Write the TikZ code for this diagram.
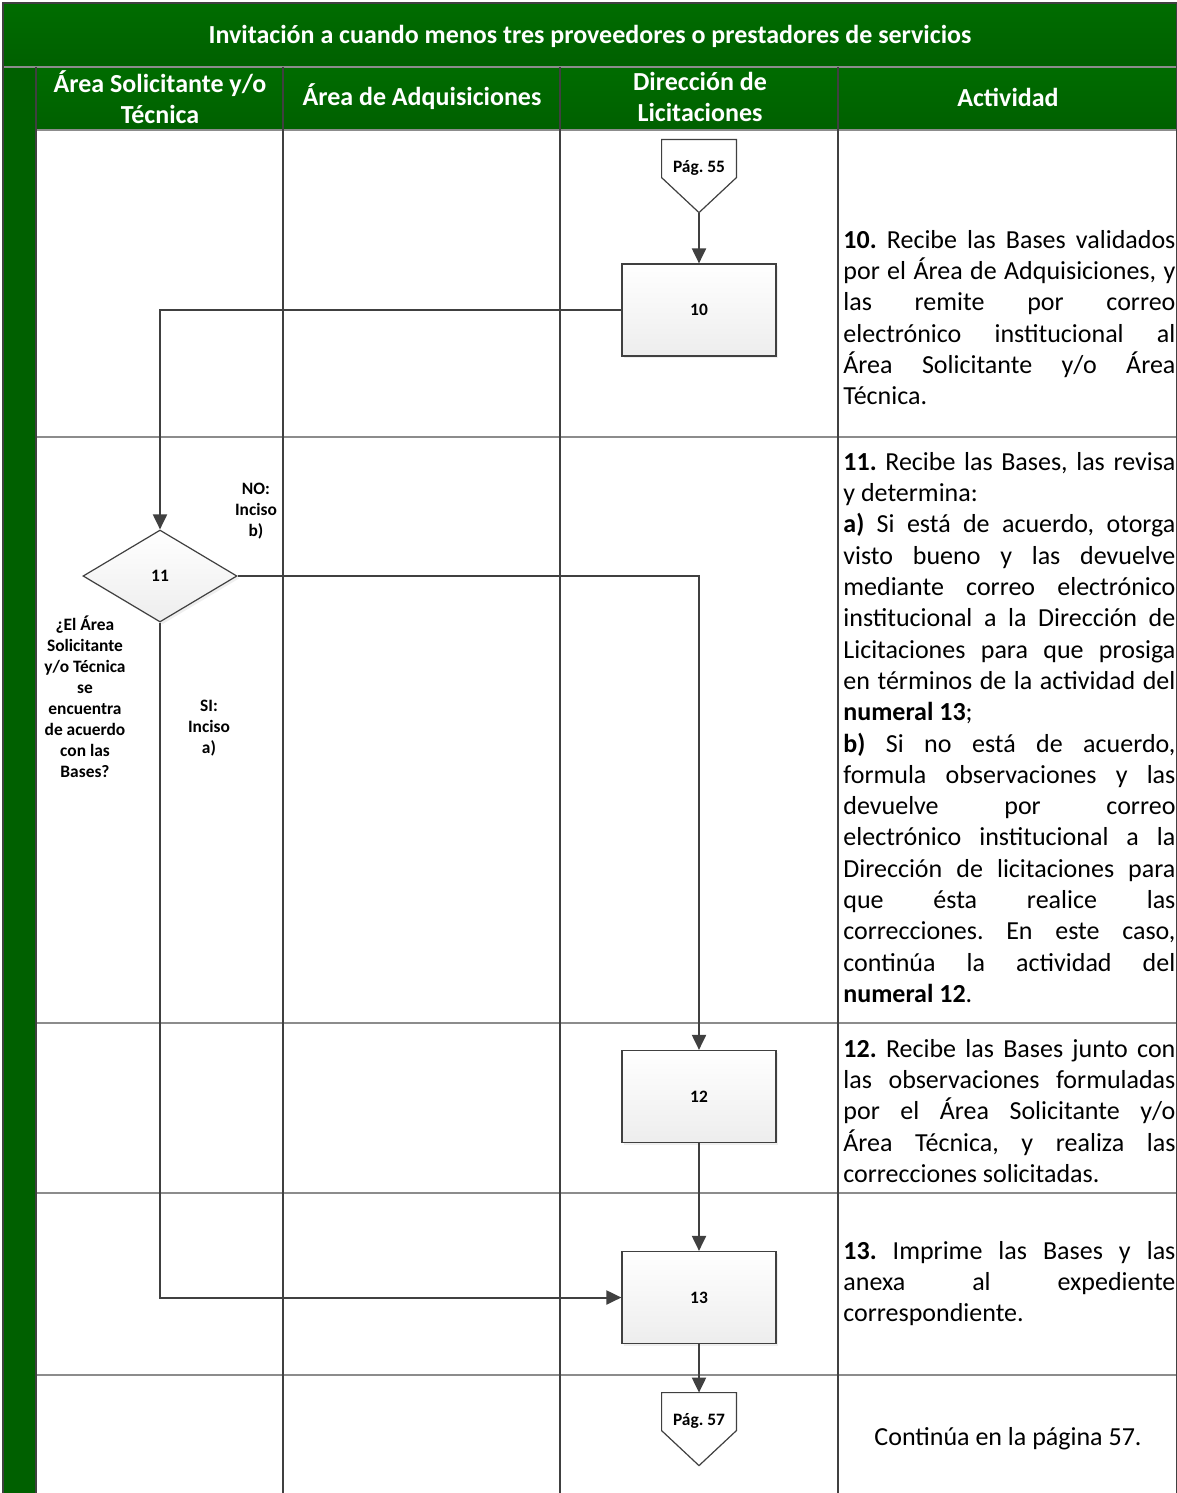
\documentclass[tikz,border=0pt]{standalone}
\usepackage{fontspec}
\setmainfont{Carlito}
\frenchspacing
\usetikzlibrary{arrows.meta,shapes.geometric,shadows}

\definecolor{verde}{RGB}{0,96,0}
\definecolor{verdeclaro}{RGB}{0,108,0}
\definecolor{linea}{RGB}{64,64,64}
\definecolor{gris}{RGB}{140,140,140}

\tikzset{
  chico/.style={font=\fontsize{8.7}{10.5}\selectfont\bfseries},
  caja/.style={chico, draw=linea, line width=0.6pt, top color=white, bottom color=gray!14,
    minimum width=77pt, minimum height=46pt, inner sep=0pt,
    drop shadow={shadow xshift=1.2pt, shadow yshift=-1.2pt, opacity=0.12}},
  decision/.style={caja, diamond},
  conector/.style={chico, minimum width=37pt, minimum height=28pt, inner sep=0pt,
    append after command={\pgfextra{\draw[draw=linea, line width=0.6pt]
      (\tikzlastnode.north west) -- (\tikzlastnode.north east)
      -- ([yshift=-19pt]\tikzlastnode.north east) -- ([yshift=-36.5pt]\tikzlastnode.north)
      -- ([yshift=-19pt]\tikzlastnode.north west) -- cycle;}}},
  flecha/.style={draw=linea, line width=1pt, -{Triangle[length=7.5pt,width=7pt]}},
  encabezado/.style={text=white, align=center, font=\fontsize{13}{15.5}\selectfont\bfseries},
  etiqueta/.style={chico, align=center, inner sep=0pt},
  actividad/.style={anchor=north west, inner sep=0pt, text width=166pt, align=justify,
    font=\fontsize{13}{15.65}\selectfont,
    execute at begin node={\tolerance=10000 \hyphenpenalty=10000}}
}

\begin{document}
\begin{tikzpicture}[x=0.5pt, y=-0.5pt]
  % medidas en pixeles de la hoja
  \def\ancho{1177}
  \def\alto{1493}
  \useasboundingbox[fill=white] (0,0) rectangle (\ancho,\alto);

  % franjas verdes del encabezado
  \shade[top color=verdeclaro, bottom color=verde] (3,3) rectangle (\ancho,67);
  \shade[top color=verdeclaro, bottom color=verde] (36,67) rectangle (\ancho,130);
  \fill[verde] (3,67) rectangle (36,\alto);

  % lineas de filas y columnas
  \foreach \y in {130,437,1023,1193,1375}
    \draw[gris, line width=0.7pt] (36,\y) -- (\ancho,\y);
  \draw[gris, line width=0.7pt] (3,67) -- (\ancho,67);
  \foreach \x in {36,283,560,838}
    \draw[linea, line width=1pt] (\x,67) -- (\x,\alto);
  \draw[linea, line width=1pt] (3,\alto) -- (3,3) -- (\ancho,3) -- (\ancho,\alto);

  % textos del encabezado
  \node[encabezado] (titulo) at (590,36) {Invitación a cuando menos tres proveedores o prestadores de servicios};
  \node[encabezado] (hsol) at (160,97) {Área Solicitante y/o\\Técnica};
  \node[encabezado] (hadq) at (422,97) {Área de Adquisiciones};
  \node[encabezado] (hlic) at (700,97) {Dirección de\\Licitaciones};
  \node[encabezado] (hact) at (1008,97) {Actividad};

  % figuras del diagrama
  \node[conector] (p55) at (699,168) {Pág. 55};
  \coordinate (p55punta) at ([yshift=-36.5pt]p55.north);
  \node[caja] (b10) at (699,310) {10};
  \node[decision] (d11) at (160,576) {11};
  \node[caja] (b12) at (699,1096.5) {12};
  \node[caja] (b13) at (699,1297.5) {13};
  \node[conector] (p57) at (699,1421) {Pág. 57};

  % etiquetas de la decision
  \node[etiqueta] (no) at (256,511) {NO:\\Inciso\\b)};
  \node[etiqueta] (si) at (209,728) {SI:\\Inciso\\a)};
  \node[etiqueta] (pregunta) at (85,696.5) {¿El Área\\Solicitante\\y/o Técnica\\se\\encuentra\\de acuerdo\\con las\\Bases?};

  % flechas
  \draw[flecha] (p55punta) -- (b10.north);
  \draw[flecha] (b10.west) -| (d11.north);
  \draw[flecha] (d11.east) -| (b12.north);
  \draw[flecha] (b12.south) -- (b13.north);
  \draw[flecha] (d11.south) |- (b13.west);
  \draw[flecha] (b13.south) -- (p57.north);

  % columna de actividades
  \node[actividad] (t10) at (843,226) {\strut\textbf{10.} Recibe las Bases validados\linebreak
    por el Área de Adquisiciones, y\linebreak
    las remite por correo\linebreak
    electrónico institucional al\linebreak
    Área Solicitante y/o Área\linebreak
    Técnica.};
  \node[actividad] (t11) at (843,448) {\strut\textbf{11.} Recibe las Bases, las revisa\linebreak
    y determina:\\
    \textbf{a)} Si está de acuerdo, otorga\linebreak
    visto bueno y las devuelve\linebreak
    mediante correo electrónico\linebreak
    institucional a la Dirección de\linebreak
    Licitaciones para que prosiga\linebreak
    en términos de la actividad del\linebreak
    \textbf{numeral 13};\\
    \textbf{b)} Si no está de acuerdo,\linebreak
    formula observaciones y las\linebreak
    devuelve por correo\linebreak
    electrónico institucional a la\linebreak
    Dirección de licitaciones para\linebreak
    que ésta realice las\linebreak
    correcciones. En este caso,\linebreak
    continúa la actividad del\linebreak
    \textbf{numeral 12}.};
  \node[actividad] (t12) at (843,1035) {\strut\textbf{12.} Recibe las Bases junto con\linebreak
    las observaciones formuladas\linebreak
    por el Área Solicitante y/o\linebreak
    Área Técnica, y realiza las\linebreak
    correcciones solicitadas.};
  \node[actividad] (t13) at (843,1237) {\strut\textbf{13.} Imprime las Bases y las\linebreak
    anexa al expediente\linebreak
    correspondiente.};
  \node[font=\fontsize{13}{15.65}\selectfont] (tfin) at (1008,1439) {Continúa en la página 57.};
\end{tikzpicture}
\end{document}
